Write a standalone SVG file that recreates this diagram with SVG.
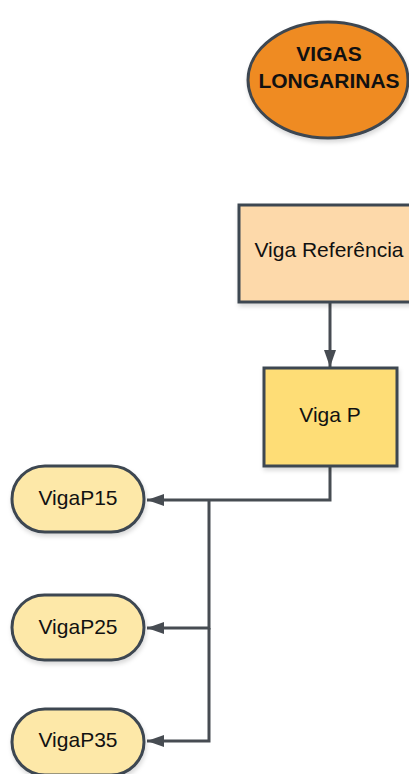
<svg xmlns="http://www.w3.org/2000/svg" width="409" height="774" viewBox="0 0 409 774">
<style>
.n{stroke:#3d4651;stroke-width:3}
.t{font-family:"Liberation Sans",Arial,sans-serif;font-size:21px;fill:#111;text-anchor:middle}
.b{font-weight:bold}
.c{fill:none;stroke:#474c52;stroke-width:3}
</style>
<defs>
<marker id="ah" viewBox="0 0 17 12" refX="17" refY="6" markerWidth="17" markerHeight="12" markerUnits="userSpaceOnUse" orient="auto">
<path d="M0,0 L17,6 L0,12 Z" fill="#474c52"/>
</marker>
<filter id="sh" x="-10%" y="-10%" width="130%" height="130%">
<feDropShadow dx="1" dy="3" stdDeviation="2" flood-color="#000" flood-opacity="0.15"/>
</filter>
</defs>
<rect width="409" height="774" fill="#fff"/>
<g id="connectors">
<path class="c" d="M330,302 V367" marker-end="url(#ah)"/>
<path class="c" d="M330,466 V500 H147" marker-end="url(#ah)"/>
<path class="c" d="M209,500 V628 H147" marker-end="url(#ah)"/>
<path class="c" d="M209,628 V741 H147" marker-end="url(#ah)"/>
</g>
<g id="vigas-longarinas">
<ellipse class="n" cx="328" cy="80" rx="80" ry="58" fill="#ef8b22" filter="url(#sh)"/>
<text class="t b" x="329" y="61">VIGAS</text>
<text class="t b" x="329" y="88">LONGARINAS</text>
</g>
<g id="viga-referencia">
<rect class="n" x="239" y="205" width="182" height="97" fill="#fdd9aa" filter="url(#sh)"/>
<text class="t" x="329" y="257">Viga Referência</text>
</g>
<g id="viga-p">
<rect class="n" x="264" y="368" width="133" height="98" fill="#fedd76" filter="url(#sh)"/>
<text class="t" x="330" y="422">Viga P</text>
</g>
<g id="vigap15">
<rect class="n" x="12" y="466" width="132" height="66" rx="33" fill="#fde8a8" filter="url(#sh)"/>
<text class="t" x="78" y="505">VigaP15</text>
</g>
<g id="vigap25">
<rect class="n" x="12" y="595" width="132" height="65" rx="32.5" fill="#fde8a8" filter="url(#sh)"/>
<text class="t" x="78" y="634">VigaP25</text>
</g>
<g id="vigap35">
<rect class="n" x="12" y="709" width="132" height="66" rx="33" fill="#fde8a8" filter="url(#sh)"/>
<text class="t" x="78" y="747">VigaP35</text>
</g>
</svg>
